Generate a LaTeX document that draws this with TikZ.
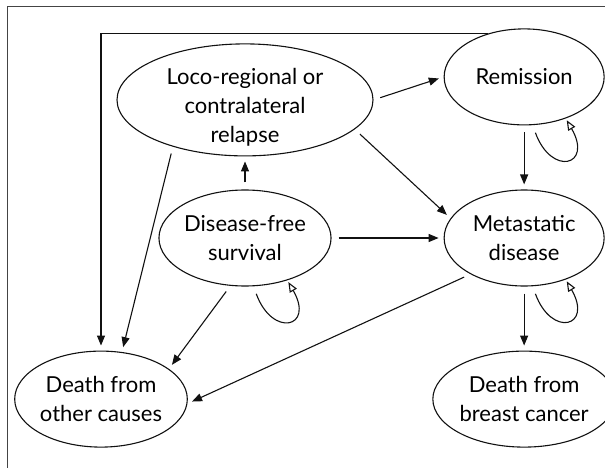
\documentclass[tikz,border=0pt]{standalone}
\usepackage{fontspec}
\setmainfont{Lato}
\usetikzlibrary{arrows.meta,positioning,shapes.geometric}
\definecolor{ink}{HTML}{111111}
\definecolor{frame}{HTML}{444444}
\tikzset{
  state/.style={ellipse, draw=ink, line width=1.1pt, fill=white, align=center, inner sep=0pt,
                minimum width=160pt, minimum height=96pt, font=\fontsize{22}{29}\selectfont},
  widestate/.style={state, minimum width=256pt, minimum height=112pt, inner ysep=-8pt},
  flow/.style={-{Triangle[length=10pt,width=8pt]}, draw=ink, line width=1.1pt,
               shorten <=7pt, shorten >=5pt},
  stay/.style={-{Triangle[open,length=10pt,width=8pt,fill=white]}, draw=ink, line width=1.1pt,
               shorten <=8pt, shorten >=2pt}
}
\newcommand{\stayloop}[1]{\draw[stay] (#1.-80) .. controls +(70:55) and +(60:55) .. (#1.-45);}

\begin{document}
\begin{tikzpicture}[x=1pt, y=-1pt]
 \useasboundingbox (0,0) rectangle (605,468);
 \draw[frame, line width=1pt] (7,468) -- (7,7) -- (605,7);
 % states
 \node[state] (dfs) at (245,238) {Disease-free\\survival};
 \node[widestate, above=33pt of dfs] (loco) {\rule{0pt}{30pt}Loco-regional or\\contralateral\\relapse};
 \node[state, right=112pt of dfs] (met) {Metastatic\\disease};
 \node[state, above=64pt of met] (rem) {Remission};
 \node[state, below=64pt of met] (breast) {Death from\\breast cancer};
 \node[state, below=64pt of dfs, xshift=-144pt] (other) {Death from\\other causes};
 % transitions
 \draw[flow] (dfs) -- (loco);
 \draw[flow] (dfs) -- (met);
 \draw[flow] (dfs.-107) -- (other.24);
 \draw[flow] (loco.east) -- (rem.west);
 \draw[flow] (loco.-15) -- (met.165);
 \draw[flow] (loco.-147) -- (other.66);
 \draw[flow] (rem) -- (met);
 \draw[flow] (met) -- (breast);
 \draw[flow] (met.-146) -- (other.-3);
 \draw[flow, shorten <=0pt] (rem.130) -- (rem.130 -| other.north) -- (other.north);
 % staying in the same state
 \stayloop{dfs}
 \stayloop{rem}
 \stayloop{met}
\end{tikzpicture}
\end{document}
